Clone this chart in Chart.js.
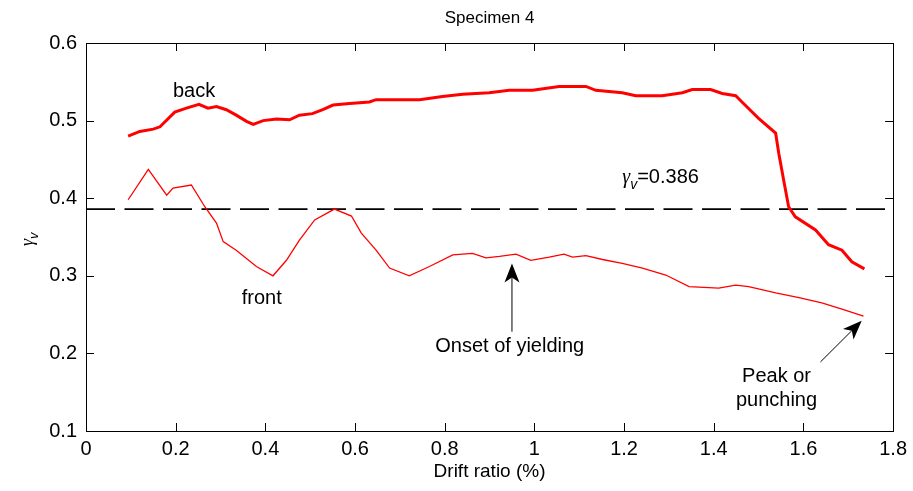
<!DOCTYPE html>
<html>
<head>
<meta charset="utf-8">
<script src="https://cdn.jsdelivr.net/npm/chart.js@4/dist/chart.umd.min.js"></script>
<style>
  html, body { margin: 0; padding: 0; background: #fff; }
  #wrap { width: 913px; height: 491px; }
</style>
</head>
<body>
<div id="wrap"><canvas id="chart"></canvas></div>
<script>
// drift ratio (%) vs gamma_v
var backX = [0.094, 0.120, 0.150, 0.165, 0.198, 0.224, 0.252, 0.272, 0.291, 0.313, 0.335, 0.358, 0.373, 0.395, 0.425, 0.454, 0.476, 0.505, 0.528, 0.551, 0.588, 0.632, 0.647, 0.744, 0.795, 0.840, 0.899, 0.944, 0.996, 1.055, 1.115, 1.137, 1.196, 1.226, 1.285, 1.330, 1.352, 1.393, 1.419, 1.449, 1.463, 1.500, 1.538, 1.545, 1.556, 1.567, 1.582, 1.627, 1.656, 1.686, 1.708, 1.736];
var backY = [0.480, 0.486, 0.489, 0.492, 0.511, 0.516, 0.521, 0.516, 0.518, 0.514, 0.507, 0.499, 0.495, 0.500, 0.502, 0.501, 0.507, 0.509, 0.514, 0.520, 0.522, 0.524, 0.527, 0.527, 0.531, 0.534, 0.536, 0.539, 0.539, 0.544, 0.544, 0.539, 0.536, 0.532, 0.532, 0.536, 0.540, 0.540, 0.535, 0.532, 0.524, 0.503, 0.484, 0.458, 0.423, 0.389, 0.376, 0.359, 0.340, 0.333, 0.318, 0.309];

var frontX = [0.094, 0.139, 0.180, 0.194, 0.235, 0.265, 0.291, 0.306, 0.335, 0.380, 0.417, 0.447, 0.476, 0.510, 0.554, 0.592, 0.614, 0.647, 0.677, 0.721, 0.766, 0.818, 0.862, 0.892, 0.922, 0.959, 0.992, 1.033, 1.066, 1.085, 1.115, 1.152, 1.196, 1.241, 1.293, 1.345, 1.411, 1.449, 1.478, 1.538, 1.590, 1.641, 1.686, 1.734];
var frontY = [0.398, 0.437, 0.404, 0.413, 0.417, 0.389, 0.368, 0.344, 0.333, 0.312, 0.300, 0.320, 0.346, 0.372, 0.386, 0.377, 0.355, 0.333, 0.310, 0.300, 0.312, 0.327, 0.329, 0.323, 0.325, 0.328, 0.320, 0.324, 0.328, 0.324, 0.326, 0.321, 0.316, 0.310, 0.301, 0.286, 0.284, 0.288, 0.286, 0.278, 0.272, 0.265, 0.257, 0.248];

var gammaV = 0.386;
var xTicks = [0, 0.2, 0.4, 0.6, 0.8, 1, 1.2, 1.4, 1.6, 1.8];
var yTicks = [0.1, 0.2, 0.3, 0.4, 0.5, 0.6];

var FONT = '"Liberation Sans", Arial, sans-serif';

function toPoints(xs, ys) {
  return xs.map(function(x, i) { return {x: x, y: ys[i]}; });
}

function drawArrow(ctx, x0, y0, x1, y1) {
  var ang = Math.atan2(y1 - y0, x1 - x0);
  var len = 19, half = 7.5, notch = 14;
  ctx.beginPath();
  ctx.moveTo(x0, y0);
  ctx.lineTo(x1 - Math.cos(ang) * notch, y1 - Math.sin(ang) * notch);
  ctx.stroke();
  ctx.save();
  ctx.translate(x1, y1);
  ctx.rotate(ang);
  ctx.beginPath();
  ctx.moveTo(0, 0);
  ctx.lineTo(-len, -half);
  ctx.lineTo(-notch, 0);
  ctx.lineTo(-len, half);
  ctx.closePath();
  ctx.fill();
  ctx.restore();
}

function drawGamma(ctx, x, y, size) {
  ctx.font = 'italic ' + size + 'px "Liberation Serif", serif';
  ctx.fillText('\u03b3', x, y);
  x += ctx.measureText('\u03b3').width;
  ctx.font = 'italic ' + Math.round(size * 0.72) + 'px ' + FONT;
  ctx.fillText('v', x, y + size * 0.3);
  return x + ctx.measureText('v').width;
}

var decorPlugin = {
  id: 'decor',
  afterDraw: function(chart) {
    var ctx = chart.ctx;
    var a = chart.chartArea;
    var xs = chart.scales.x, ys = chart.scales.y;
    ctx.save();
    ctx.strokeStyle = '#000';
    ctx.fillStyle = '#000';
    ctx.lineWidth = 1;

    // axes box and inward ticks on all sides
    ctx.strokeRect(Math.round(a.left) + 0.5, Math.round(a.top) + 0.5, Math.round(a.right - a.left), Math.round(a.bottom - a.top));
    var tl = 8;
    ctx.beginPath();
    xTicks.forEach(function(v) {
      var px = Math.round(xs.getPixelForValue(v)) + 0.5;
      ctx.moveTo(px, a.bottom); ctx.lineTo(px, a.bottom - tl);
      ctx.moveTo(px, a.top); ctx.lineTo(px, a.top + tl);
    });
    yTicks.forEach(function(v) {
      var py = Math.round(ys.getPixelForValue(v)) + 0.5;
      ctx.moveTo(a.left, py); ctx.lineTo(a.left + tl, py);
      ctx.moveTo(a.right, py); ctx.lineTo(a.right - tl, py);
    });
    ctx.stroke();

    // title and axis labels
    ctx.textBaseline = 'alphabetic';
    ctx.textAlign = 'center';
    ctx.font = '17px ' + FONT;
    ctx.fillText('Specimen 4', (a.left + a.right) / 2, 23);
    ctx.font = '19px ' + FONT;
    ctx.fillText('Drift ratio (%)', (a.left + a.right) / 2, 477);

    ctx.save();
    ctx.translate(33, (a.top + a.bottom) / 2);
    ctx.rotate(-Math.PI / 2);
    ctx.textAlign = 'left';
    drawGamma(ctx, -9, 0, 18);
    ctx.restore();

    // curve labels
    ctx.textAlign = 'center';
    ctx.font = '20px ' + FONT;
    ctx.fillText('back', xs.getPixelForValue(0.241), ys.getPixelForValue(0.530));
    ctx.fillText('front', xs.getPixelForValue(0.392), ys.getPixelForValue(0.2637));
    ctx.fillText('Onset of yielding', xs.getPixelForValue(0.945), ys.getPixelForValue(0.202));
    ctx.fillText('Peak or', xs.getPixelForValue(1.540), ys.getPixelForValue(0.1635));
    ctx.fillText('punching', xs.getPixelForValue(1.540), ys.getPixelForValue(0.1322));

    ctx.textAlign = 'left';
    var gx = drawGamma(ctx, xs.getPixelForValue(1.196), ys.getPixelForValue(0.419), 20);
    ctx.font = '20px ' + FONT;
    ctx.fillText('=' + gammaV, gx, ys.getPixelForValue(0.419));

    // arrows
    drawArrow(ctx, xs.getPixelForValue(0.950), ys.getPixelForValue(0.228), xs.getPixelForValue(0.950), ys.getPixelForValue(0.316));
    drawArrow(ctx, xs.getPixelForValue(1.638), ys.getPixelForValue(0.189), xs.getPixelForValue(1.730), ys.getPixelForValue(0.242));
    ctx.restore();
  }
};

new Chart(document.getElementById('chart'), {
  type: 'line',
  data: {
    datasets: [
      {
        label: 'back',
        data: toPoints(backX, backY),
        borderColor: '#ff0000',
        borderWidth: 3,
        pointRadius: 0,
        tension: 0
      },
      {
        label: 'front',
        data: toPoints(frontX, frontY),
        borderColor: '#ff0000',
        borderWidth: 1.3,
        pointRadius: 0,
        tension: 0
      },
      {
        label: 'gamma_v',
        data: [{x: xTicks[0], y: gammaV}, {x: xTicks[xTicks.length - 1], y: gammaV}],
        borderColor: '#000',
        borderWidth: 1.8,
        borderDash: [29, 9.5],
        pointRadius: 0
      }
    ]
  },
  options: {
    responsive: true,
    maintainAspectRatio: false,
    animation: false,
    layout: { padding: { top: 43, right: 19, left: 0, bottom: 0 } },
    plugins: {
      legend: { display: false },
      tooltip: { enabled: false },
      title: { display: false }
    },
    scales: {
      x: {
        type: 'linear',
        min: 0,
        max: 1.8,
        afterBuildTicks: function(s) { s.ticks = xTicks.map(function(v) { return {value: v}; }); },
        afterFit: function(s) { s.height = 60; },
        grid: { display: false, drawTicks: false },
        border: { display: false },
        ticks: {
          color: '#000',
          font: { family: FONT, size: 20 },
          padding: 6,
          maxRotation: 0,
          autoSkip: false,
          callback: function(v) { return String(v); }
        }
      },
      y: {
        type: 'linear',
        min: 0.1,
        max: 0.6,
        afterBuildTicks: function(s) { s.ticks = yTicks.map(function(v) { return {value: v}; }); },
        afterFit: function(s) { s.width = 86; },
        grid: { display: false, drawTicks: false },
        border: { display: false },
        ticks: {
          color: '#000',
          font: { family: FONT, size: 20 },
          padding: 9,
          autoSkip: false,
          callback: function(v) { return String(v); }
        }
      }
    }
  },
  plugins: [decorPlugin]
});
</script>
</body>
</html>
